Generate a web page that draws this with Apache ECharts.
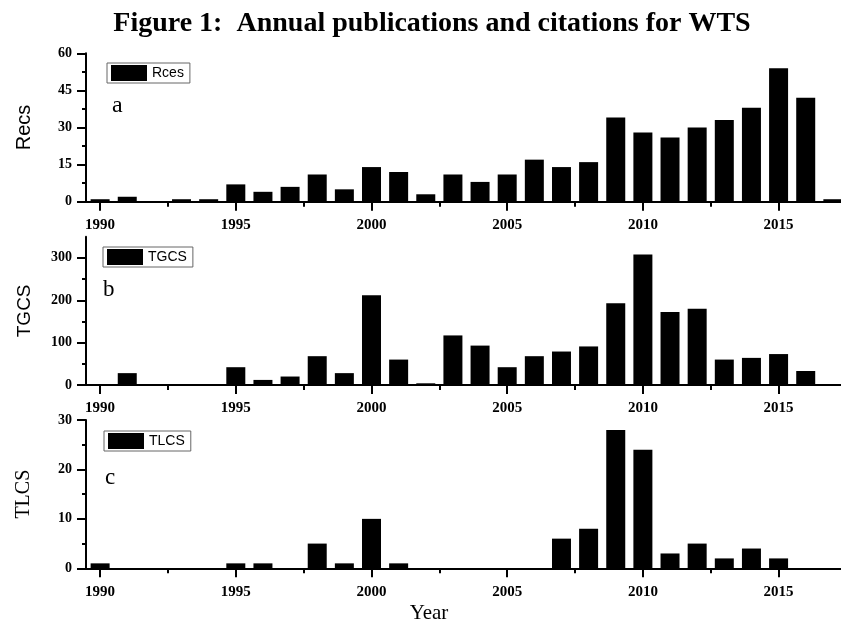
<!DOCTYPE html>
<html>
<head>
<meta charset="utf-8">
<title>Annual publications and citations for WTS</title>
<script src="https://cdn.jsdelivr.net/npm/echarts@6/dist/echarts.min.js"></script>
<style>
  html, body { margin: 0; padding: 0; background: #fff; }
  #chart { width: 841px; height: 624px; }
</style>
</head>
<body>
<div id="chart"></div>
<script>
// data
const years = [1990, 1991, 1992, 1993, 1994, 1995, 1996, 1997, 1998, 1999,
  2000, 2001, 2002, 2003, 2004, 2005, 2006, 2007, 2008, 2009,
  2010, 2011, 2012, 2013, 2014, 2015, 2016, 2017]
const recs = [1, 2, 0, 1, 1, 7, 4, 6, 11, 5, 14, 12, 3, 11, 8, 11, 17, 14, 16, 34, 28, 26, 30, 33, 38, 54, 42, 1]
const tgcs = [1, 28, 0, 0, 2, 42, 12, 20, 68, 28, 212, 60, 4, 117, 93, 42, 68, 79, 91, 193, 308, 172, 180, 60, 64, 73, 33, 0]
const tlcs = [1, 0, 0, 0, 0, 1, 1, 0, 5, 1, 10, 1, 0, 0, 0, 0, 0, 6, 8, 28, 24, 3, 5, 2, 4, 2, 0, 0]

const yearTicks = [1990, 1995, 2000, 2005, 2010, 2015]
const yearMinorTicks = [1992.5, 1997.5, 2002.5, 2007.5, 2012.5]
const recsTicks = [0, 15, 30, 45, 60]
const recsMinorTicks = [7.5, 22.5, 37.5, 52.5]
const tgcsTicks = [0, 100, 200, 300]
const tgcsMinorTicks = [50, 150, 250]
const tlcsTicks = [0, 10, 20, 30]
const tlcsMinorTicks = [5, 15, 25]

const serif = '"Liberation Serif", "Times New Roman", serif'
const sans = '"Liberation Sans", Arial, sans-serif'

const panels = [
  { legend: 'Rces', yName: 'Recs', nameFont: sans, nameSize: 20, data: recs, max: 60,
    ticks: recsTicks, minor: recsMinorTicks, top: 53.3, height: 148.4,
    legendPos: { left: 107, top: 63 }, letter: 'a', letterPos: [112, 105.5], letterSize: 24 },
  { legend: 'TGCS', yName: 'TGCS', nameFont: sans, nameSize: 19, data: tgcs, max: 350,
    ticks: tgcsTicks, minor: tgcsMinorTicks, top: 236.7, height: 148.3,
    legendPos: { left: 103, top: 247 }, letter: 'b', letterPos: [103, 289.5], letterSize: 23 },
  { legend: 'TLCS', yName: 'TLCS', nameFont: serif, nameSize: 20, data: tlcs, max: 30,
    ticks: tlcsTicks, minor: tlcsMinorTicks, top: 420, height: 148.3,
    legendPos: { left: 104, top: 431 }, letter: 'c', letterPos: [105, 478], letterSize: 23 }
]

const xMin = 1989.48
const xMax = 2017.3

const grid = []
const xAxis = []
const yAxis = []
const series = []
const legend = []
const graphic = []

panels.forEach((p, i) => {
  grid.push({ left: 86, right: 0, top: p.top, height: p.height })

  // major ticks + labels
  xAxis.push({
    type: 'value', gridIndex: i, position: 'bottom', min: xMin, max: xMax,
    splitLine: { show: false },
    axisLine: { lineStyle: { color: '#000', width: 2 } },
    axisTick: { customValues: yearTicks, length: 9, lineStyle: { color: '#000', width: 2 } },
    axisLabel: {
      customValues: yearTicks, margin: 16, color: '#000',
      fontFamily: serif, fontWeight: 'bold', fontSize: 15,
      formatter: v => String(Math.round(v))
    }
  })
  // minor ticks only
  xAxis.push({
    type: 'value', gridIndex: i, position: 'bottom', min: xMin, max: xMax,
    splitLine: { show: false },
    axisLine: { show: false },
    axisTick: { customValues: yearMinorTicks, length: 5, lineStyle: { color: '#000', width: 2 } },
    axisLabel: { show: false }
  })

  yAxis.push({
    type: 'value', gridIndex: i, position: 'left', min: 0, max: p.max,
    name: p.yName, nameLocation: 'middle', nameGap: 52, nameRotate: 90,
    nameTextStyle: { fontFamily: p.nameFont, fontSize: p.nameSize, color: '#000' },
    splitLine: { show: false },
    axisLine: { show: true, lineStyle: { color: '#000', width: 2 } },
    axisTick: { show: true, customValues: p.ticks, length: 9, lineStyle: { color: '#000', width: 2 } },
    axisLabel: {
      customValues: p.ticks, margin: 14, color: '#000',
      fontFamily: serif, fontWeight: 'bold', fontSize: 14
    }
  })
  yAxis.push({
    type: 'value', gridIndex: i, position: 'left', min: 0, max: p.max,
    splitLine: { show: false },
    axisLine: { show: false },
    axisTick: { show: true, customValues: p.minor, length: 4, lineStyle: { color: '#000', width: 2 } },
    axisLabel: { show: false }
  })

  series.push({
    name: p.legend, type: 'bar',
    xAxisIndex: i * 2, yAxisIndex: i * 2,
    barWidth: 19,
    itemStyle: { color: '#000' },
    data: years.map((y, k) => [y, p.data[k]])
  })

  legend.push({
    data: [{ name: p.legend, icon: 'rect' }], left: p.legendPos.left, top: p.legendPos.top,
    orient: 'horizontal', itemWidth: 36, itemHeight: 16,
    padding: [2, 6, 2, 4], borderColor: '#666', borderWidth: 1,
    textStyle: { fontFamily: sans, fontSize: 14, color: '#000' },
    selectedMode: false
  })

  graphic.push({
    type: 'text',
    x: p.letterPos[0], y: p.letterPos[1],
    style: {
      text: p.letter, font: p.letterSize + 'px ' + serif,
      fill: '#000', textVerticalAlign: 'middle'
    }
  })
})

graphic.push({
  type: 'text', x: 432, y: 23.5,
  style: {
    text: 'Figure 1:  Annual publications and citations for WTS',
    font: 'bold 28px ' + serif, fill: '#000',
    textAlign: 'center', textVerticalAlign: 'middle'
  }
})
graphic.push({
  type: 'text', x: 429, y: 613,
  style: {
    text: 'Year', font: '21px ' + serif, fill: '#000',
    textAlign: 'center', textVerticalAlign: 'middle'
  }
})

const chart = echarts.init(document.getElementById('chart'), null, { renderer: 'canvas' })
chart.setOption({
  animation: false,
  backgroundColor: '#fff',
  grid, xAxis, yAxis, series, legend, graphic
})
</script>
</body>
</html>
